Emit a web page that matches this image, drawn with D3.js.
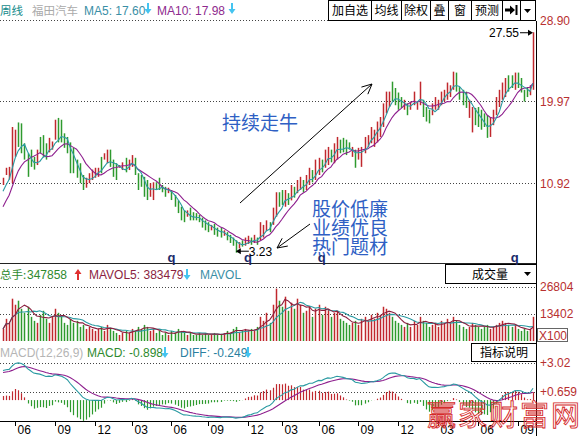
<!DOCTYPE html>
<html><head><meta charset="utf-8">
<script src="https://cdn.jsdelivr.net/npm/d3@7"></script>
<style>body{margin:0;background:#fff;}svg{display:block;}</style>
</head><body><svg id="c" width="585" height="436"></svg>
<script>
// ---- weekly bars (price) ----
const open = [10.8,11.9,11.5,11.5,14.2,17.2,17.0,15.1,14.0,14.3, 13.6,13.1,15.8,16.0,15.0,14.5,14.7,15.9,17.8,17.5,
 16.2,15.8,15.2,14.5,13.3,12.9,11.6,10.6,11.0,11.4, 11.7,11.8,13.5,13.6,13.3,14.4,13.2,12.9,12.6,12.5,
 13.4,12.5,12.9,13.5,11.8,11.5,11.3,11.0,9.6,9.3, 10.9,11.2,10.6,10.3,9.9,10.0,9.4,8.8,8.1,7.6,
 7.3,8.0,7.6,7.5,7.2,6.9,6.6,6.4,5.8,6.2, 5.8,5.8,5.2,5.3,5.0,4.7,4.4,3.8,4.5,4.1,
 4.3,4.8,4.4,4.8,4.8,5.2,5.9,6.4,5.9,7.5, 9.6,9.9,8.6,9.6,9.2,10.3,10.0,10.4,11.0,10.4,
 11.0,12.2,11.5,12.0,13.3,12.8,13.1,14.4,13.4,13.8, 15.5,15.7,15.4,15.3,14.0,14.4,13.7,13.0,14.5,15.1,
 15.6,15.2,15.8,16.3,17.5,19.0,19.6,21.8,21.2,20.6, 20.2,19.2,19.5,19.1,19.7,19.1,19.8,19.9,19.1,18.8,
 18.6,19.2,19.2,19.7,20.1,20.3,20.6,21.4,22.8,21.3, 21.0,20.7,18.4,17.0,19.0,19.1,18.7,18.4,18.2,16.3,
 17.6,18.7,19.6,20.4,20.7,22.5,22.6,21.4,22.9,22.3, 21.0,21.3,20.8,21.4];
const high = [11.5,12.6,12.7,17.1,16.8,17.6,17.5,15.3,14.2,14.6, 13.8,14.6,16.0,16.2,15.3,15.9,15.5,17.9,18.1,17.9,
 16.4,16.0,15.4,14.8,13.5,13.1,11.8,11.5,12.0,12.4, 12.6,12.6,13.8,14.2,14.6,14.6,13.5,13.1,12.9,13.2,
 13.7,13.5,14.0,13.7,12.0,11.8,11.6,11.25,10.9,11.0, 11.0,11.5,10.7,10.5,10.4,10.15,9.6,9.0,8.3,7.9,
 7.9,8.2,7.7,7.6,7.4,7.1,6.8,6.6,6.3,6.4, 6.0,6.0,5.7,5.5,5.2,4.9,4.6,4.4,4.6,4.9,
 5.1,4.9,5.2,4.9,6.6,6.3,6.8,6.6,8.2,9.9, 9.9,10.15,10.15,9.8,10.7,10.5,11.25,11.6,11.25,11.8,
 12.6,12.35,13.5,13.7,13.5,14.6,14.9,14.6,15.3,16.0, 15.7,15.9,15.7,15.4,14.9,14.6,14.8,14.9,16.0,16.2,
 17.1,16.8,17.7,18.2,19.7,21.0,21.0,22.1,21.4,20.9, 20.4,20.1,19.7,19.9,21.0,19.9,22.1,20.1,19.3,19.0,
 19.7,20.4,20.1,21.0,21.2,22.0,21.7,23.2,23.1,21.5, 21.2,21.0,20.1,19.3,19.2,19.3,19.0,18.6,18.4,18.2,
 19.0,20.4,21.2,22.0,22.5,22.8,22.8,23.1,23.1,22.5, 21.2,21.5,21.7,27.55];
const low = [10.7,11.8,11.3,10.9,13.8,14.9,14.2,13.5,11.6,12.7, 12.4,12.9,14.2,13.8,13.5,14.3,14.6,15.7,15.4,15.4,
 14.8,14.2,12.0,12.0,11.5,10.9,10.15,10.4,10.9,11.25, 11.5,11.6,12.0,13.5,13.1,12.7,11.6,11.25,12.6,12.35,
 12.1,12.35,12.7,11.8,10.15,10.5,9.4,9.04,9.4,9.04, 10.15,10.15,9.9,9.4,9.8,9.04,8.3,7.6,6.8,6.6,
 7.2,6.8,6.8,6.8,6.6,6.0,5.7,5.5,5.7,5.2, 5.0,4.9,5.1,4.6,4.3,4.0,3.23,3.7,3.9,4.0,
 4.2,4.1,4.3,4.1,4.6,4.9,5.6,5.5,6.3,7.2, 8.3,8.5,8.3,8.5,9.0,9.3,9.8,10.15,9.9,10.15,
 10.7,11.0,11.25,11.8,12.1,12.6,12.9,13.2,13.1,13.5, 14.2,14.3,14.0,14.6,13.8,12.6,13.5,12.7,14.2,14.9,
 15.3,14.9,15.4,16.0,17.1,18.6,19.3,19.9,19.5,19.0, 19.2,19.0,18.4,19.0,19.5,19.0,19.5,18.2,17.7,17.5,
 18.4,19.0,19.0,19.5,19.9,20.1,20.4,21.2,21.0,20.1, 19.5,19.2,18.1,16.5,17.3,17.1,16.8,17.1,15.9,16.0,
 17.3,18.4,19.3,20.1,20.4,21.0,21.4,21.2,21.4,20.9, 19.9,20.4,20.6,21.2];
const close = [11.3,12.4,12.5,16.0,16.3,15.3,14.6,13.8,12.0,13.0, 12.7,14.3,14.5,14.2,13.9,15.6,15.3,17.5,15.8,16.0,
 15.2,14.5,12.4,12.3,11.8,11.2,10.4,11.3,11.8,12.2, 12.4,12.5,12.3,14.1,14.4,13.0,12.0,11.6,12.9,13.0,
 12.4,13.3,13.8,12.1,10.5,10.8,9.8,9.4,10.6,10.8, 10.3,10.4,10.1,9.7,10.3,9.3,8.6,7.9,7.1,6.9,
 7.8,7.1,7.0,6.9,6.8,6.2,6.0,5.8,6.2,5.5, 5.2,5.1,5.6,4.8,4.5,4.2,3.6,4.3,4.0,4.7,
 4.9,4.3,5.0,4.3,6.3,6.1,6.6,5.8,7.9,9.5, 8.6,8.8,9.9,8.8,10.4,9.6,11.0,11.3,10.2,11.6,
 12.3,11.3,13.1,13.4,12.4,14.3,14.6,13.5,15.0,15.6, 14.5,14.6,14.3,14.7,14.7,13.0,14.6,14.6,15.7,16.0,
 16.8,16.5,17.4,17.9,19.4,20.6,20.8,20.3,19.9,19.3, 19.4,19.9,18.7,19.7,20.7,19.8,21.7,18.5,17.9,17.8,
 19.5,20.2,19.9,20.8,21.0,21.7,21.5,22.9,21.3,20.4, 19.8,19.5,19.8,18.9,17.6,17.4,17.1,17.4,16.3,17.9,
 18.7,20.1,20.9,21.7,22.2,21.3,21.7,22.8,21.7,21.2, 20.2,20.6,21.5,26.0];
// weekly volume (x100)
const volume = [6000,11000,9000,21000,18000,20000,16000,14000,17000,12000, 10000,9000,13000,15000,11000,9000,12000,16000,14000,12000,
 9000,8000,11000,9000,10000,7000,8000,6000,7000,6000, 5000,6000,7000,5000,8000,6000,5000,4000,3000,4000,
 5000,4000,6000,5000,7000,6000,8000,7000,5000,6000, 4000,5000,3000,4000,3000,5000,4000,6000,5000,4000,
 3000,4000,3000,3000,4000,3000,4000,3000,3000,4000, 3000,3000,4000,5000,4000,6000,7000,4000,5000,6000,
 5000,6000,5000,7000,12000,10000,14000,9000,18000,26000, 20000,17000,22000,15000,19000,16000,21000,18000,14000,15000,
 17000,12000,16000,18000,13000,17000,16000,12000,14000,15000, 11000,10000,9000,8000,9000,10000,8000,11000,12000,10000,
 13000,11000,14000,13000,17000,16000,14000,12000,10000,9000, 8000,7000,9000,7000,10000,8000,12000,10000,9000,7000,
 8000,9000,7000,10000,9000,11000,9000,12000,10000,8000, 7000,6000,7000,9000,8000,7000,6000,7000,8000,6000,
 7000,8000,9000,10000,9000,8000,7000,8000,6000,5000, 6000,5000,6000,12000];
const priorClose = [6.0,6.3,6.6,6.9,7.2,9.0,9.5,9.9,10.4]; // weeks before the window (MA warm-up)
const macdSeed = [9.0, 6.6, 2.2]; // EMA12, EMA26, DEA before first week
const priceTicks = [28.90, 19.97, 10.92];
const priceTickLabels = ["28.90","19.97","10.92"];
const volTicks = [26804, 13402];
const macdTicks = [3.02, 0.659];
const macdTickLabels = ["+3.02","+0.659"];
const monthTickIdx = [4,17,30,42,55,67,80,91,103,116,129,142,155,168];
const monthTickLabels = ["06","09","12","03","06","09","12","03","06","09","12","03","06","09"];
const markerIdx = [55,80,104,167];
const buttons = ["加自选","均线","除权","叠","窗","预测"];
const buttonEdges = [328,371,401,430,448,471,502,520,536];

const RED="#c0282e", GREEN="#2e9a2e", TEAL="#2a9aa2", PURPLE="#8e1f8e", AXR="#b83030";
const CJK="'Noto Sans CJK SC','Noto Sans',sans-serif", LAT="'Liberation Sans',Arial,sans-serif";
const svg=d3.select("#c");
const n=close.length;
const x=d3.scaleLinear().domain([0,n-1]).range([3,533]);
const yP=d3.scaleLinear().domain([10.92,28.90]).range([183,20]);
const yV=d3.scaleLinear().domain([0,26804]).range([341,287]);
const yM=d3.scaleLinear().domain([0.659,3.02]).range([392,363]);
const px=i=>Math.round(x(i))+0.5;

// moving averages
const allC=priorClose.concat(close), off=priorClose.length;
const ma=(arr,k,o)=>d3.range(n).map(i=>{const j=i+o;return d3.mean(arr.slice(Math.max(0,j-k+1),j+1));});
const ma5=ma(allC,5,off), ma10=ma(allC,10,off);
const vma5=ma(volume,5,0), vma10=ma(volume,10,0);
let [e12,e26,dea]=macdSeed; const dif=[],deaA=[],hist=[];
close.forEach(c=>{e12=e12*11/13+c*2/13;e26=e26*25/27+c*2/27;const d=e12-e26;dea=dea*0.8+d*0.2;dif.push(d);deaA.push(dea);hist.push(2*(d-dea));});

const defs=svg.append("defs");
defs.append("clipPath").attr("id","cp").append("rect").attr("x",0).attr("y",20).attr("width",536).attr("height",243);
defs.append("clipPath").attr("id","cv").append("rect").attr("x",0).attr("y",284).attr("width",536).attr("height",58);
defs.append("clipPath").attr("id","cm").append("rect").attr("x",0).attr("y",362).attr("width",536).attr("height",60);

// gridlines
const grid=(y)=>svg.append("line").attr("x1",0).attr("x2",536).attr("y1",Math.round(y)+0.5).attr("y2",Math.round(y)+0.5)
  .attr("stroke","#444").attr("stroke-dasharray","1,2");
priceTicks.forEach(v=>grid(yP(v)));volTicks.forEach(v=>grid(yV(v)));macdTicks.forEach(v=>grid(yM(v)));

// price bars
const gp=svg.append("g").attr("clip-path","url(#cp)");
gp.selectAll("line.b").data(close).join("line").attr("class","b")
 .attr("x1",(d,i)=>px(i)).attr("x2",(d,i)=>px(i)).attr("y1",(d,i)=>yP(high[i])).attr("y2",(d,i)=>yP(low[i]))
 .attr("stroke",(d,i)=>close[i]>=open[i]?RED:GREEN).attr("stroke-width",1.5);
const lineP=d3.line().x((d,i)=>x(i)).y(d=>yP(d));
gp.append("path").attr("d",lineP(ma10)).attr("fill","none").attr("stroke",PURPLE).attr("stroke-width",1.1);
gp.append("path").attr("d",lineP(ma5)).attr("fill","none").attr("stroke",TEAL).attr("stroke-width",1.1);

// volume
const gv=svg.append("g").attr("clip-path","url(#cv)");
gv.selectAll("line").data(volume).join("line")
 .attr("x1",(d,i)=>px(i)).attr("x2",(d,i)=>px(i)).attr("y1",yV(0)).attr("y2",d=>yV(d))
 .attr("stroke",(d,i)=>close[i]>=open[i]?RED:GREEN).attr("stroke-width",1.5);
const lineV=d3.line().x((d,i)=>x(i)).y(d=>yV(d));
gv.append("path").attr("d",lineV(vma10)).attr("fill","none").attr("stroke",TEAL).attr("stroke-width",1.1);
gv.append("path").attr("d",lineV(vma5)).attr("fill","none").attr("stroke","#8b1f3f").attr("stroke-width",1.1);

// MACD
const gm=svg.append("g").attr("clip-path","url(#cm)");
gm.selectAll("line").data(hist).join("line")
 .attr("x1",(d,i)=>px(i)).attr("x2",(d,i)=>px(i)).attr("y1",yM(0)).attr("y2",d=>yM(d))
 .attr("stroke",d=>d>=0?RED:GREEN).attr("stroke-width",1.2);
const lineM=d3.line().x((d,i)=>x(i)).y(d=>yM(d));
gm.append("path").attr("d",lineM(deaA)).attr("fill","none").attr("stroke",PURPLE).attr("stroke-width",1.1);
gm.append("path").attr("d",lineM(dif)).attr("fill","none").attr("stroke",TEAL).attr("stroke-width",1.1);

// frame lines
svg.append("line").attr("x1",536.5).attr("x2",536.5).attr("y1",21).attr("y2",436).attr("stroke","#000");
svg.append("line").attr("x1",0).attr("x2",536).attr("y1",263.5).attr("y2",263.5).attr("stroke","#222");
svg.append("line").attr("x1",0).attr("x2",536).attr("y1",421.5).attr("y2",421.5).attr("stroke","#000");

// bottom axis
const xa=svg.append("g");
monthTickIdx.forEach((t,k)=>{
  const tx=Math.round(x(t))+0.5;
  xa.append("line").attr("x1",tx).attr("x2",tx).attr("y1",422).attr("y2",426).attr("stroke","#000");
  xa.append("text").attr("x",tx+2).attr("y",434).attr("font-family",LAT).attr("font-size",12).text(monthTickLabels[k]);
});

// right labels
const rl=(y,t)=>svg.append("text").attr("x",540).attr("y",y).attr("font-family",LAT).attr("font-size",12).attr("fill",AXR).text(t);
priceTicks.forEach((v,k)=>rl(yP(v)+5,priceTickLabels[k]));
volTicks.forEach(v=>rl(yV(v)+4,String(v)));
macdTicks.forEach((v,k)=>rl(yM(v)+4,macdTickLabels[k]));
svg.append("rect").attr("x",537.5).attr("y",328.5).attr("width",30).attr("height",13).attr("fill","#fff").attr("stroke","#666");
svg.append("text").attr("x",539).attr("y",340).attr("font-family",LAT).attr("font-size",12).attr("fill",AXR).text("X100");

// arrows helpers
const darr=(cx,top,c)=>svg.append("path").attr("d",`M${cx-1},${top}h2v6h2.5l-3.5,5l-3.5,-5h2.5z`).attr("fill",c);
const uarr=(cx,top,c)=>svg.append("path").attr("d",`M${cx},${top}l3.5,5h-2.5v6h-2v-6h-2.5z`).attr("fill",c);
const txt=(x0,y0,t,c,f,s)=>svg.append("text").attr("x",x0).attr("y",y0).attr("font-family",f||LAT).attr("font-size",s||12).attr("fill",c).text(t);

// header
txt(0,15,"周线","#138a8a",CJK,11.5);
txt(32,15,"福田汽车","#aaaaaa",CJK,11.5);
txt(84,15,"MA5: 17.60","#3a8fa6");
darr(148,3,"#44c4f0");
txt(157,15,"MA10: 17.98","#8e2a8e");
darr(232,3,"#44c4f0");
// buttons
svg.append("rect").attr("x",328.5).attr("y",0.5).attr("width",207).attr("height",20).attr("fill","#fff").attr("stroke","#000");
buttonEdges.slice(1,-1).forEach(e=>svg.append("line").attr("x1",e+0.5).attr("x2",e+0.5).attr("y1",0).attr("y2",21).attr("stroke","#000"));
buttons.forEach((b,k)=>svg.append("text").attr("x",(buttonEdges[k]+buttonEdges[k+1])/2+0.5).attr("y",15).attr("text-anchor","middle")
  .attr("font-family",CJK).attr("font-size",12).text(b));
svg.append("path").attr("d","M505,8.5h5v-3l5,4.5l-5,4.5v-3h-5z").attr("fill","#000");
svg.append("rect").attr("x",515.5).attr("y",5).attr("width",2).attr("height",10).attr("fill","#000");
svg.append("path").attr("d","M524,9h7l-3.5,4z").attr("fill","#000");

// volume header
txt(0,279,"总手:","#2e8a2e",CJK,11.5);
txt(27,279,"347858","#2e8a2e");
uarr(78,269,"#e03030");
txt(89,279,"MAVOL5: 383479","#8b1f3f");
darr(187,269,"#44c4f0");
txt(200,279,"MAVOL","#3a8fa6");
svg.append("rect").attr("x",445.5).attr("y",264.5).attr("width",91).attr("height",19).attr("fill","#fff").attr("stroke","#000");
txt(472,279,"成交量","#000",CJK,12);
svg.append("path").attr("d","M524,272h7l-3.5,4z").attr("fill","#000");

// MACD header
txt(0,357,"MACD(12,26,9)","#b5b5b5");
txt(87,357,"MACD: -0.898","#2e8a2e");
darr(165,347,"#44c4f0");
txt(180,357,"DIFF: -0.249","#2a7f9f");
darr(248,347,"#44c4f0");
svg.append("rect").attr("x",471.5).attr("y",343.5).attr("width",65).attr("height",18).attr("fill","#fff").attr("stroke","#000");
svg.append("text").attr("x",504).attr("y",357).attr("text-anchor","middle").attr("font-family",CJK).attr("font-size",12).text("指标说明");

// markers
markerIdx.forEach(i=>svg.append("text").attr("x",x(i)).attr("y",262).attr("text-anchor","middle").attr("font-family",LAT)
  .attr("font-weight","bold").attr("font-size",13).attr("fill","#1a2a6a").text("q"));

// annotations
const arrowLine=(x1,y1,x2,y2)=>{
  svg.append("line").attr("x1",x1).attr("y1",y1).attr("x2",x2).attr("y2",y2).attr("stroke","#000").attr("stroke-width",1);
  const a=Math.atan2(y1-y2,x1-x2);
  [0.45,-0.45].forEach(da=>svg.append("line").attr("x1",x2).attr("y1",y2).attr("x2",x2+11*Math.cos(a+da)).attr("y2",y2+11*Math.sin(a+da)).attr("stroke","#000"));
};
arrowLine(240,203,372,84);
arrowLine(310,224,277,248);
const lowI=low.indexOf(d3.min(low)), hiI=high.indexOf(d3.max(high));
// 3.23
svg.append("line").attr("x1",x(lowI)+13).attr("x2",x(lowI)+2).attr("y1",yP(low[lowI])-1.5).attr("y2",yP(low[lowI])-1.5).attr("stroke","#000");
svg.append("path").attr("d",`M${x(lowI)},${yP(low[lowI])-1.5}l5,-3v6z`).attr("fill","#000");
txt(x(lowI)+13,yP(low[lowI])+3,String(d3.min(low)),"#000",LAT,12);
// 27.55
svg.append("line").attr("x1",x(hiI)-13).attr("x2",x(hiI)-2).attr("y1",yP(high[hiI])+0.5).attr("y2",yP(high[hiI])+0.5).attr("stroke","#000");
svg.append("path").attr("d",`M${x(hiI)},${yP(high[hiI])+0.5}l-5,-3v6z`).attr("fill","#000");
svg.append("text").attr("x",x(hiI)-14).attr("y",yP(high[hiI])+5).attr("text-anchor","end").attr("font-family",LAT).attr("font-size",12).text(String(d3.max(high)));

const BLUE="#2f5fc4";
txt(222,130,"持续走牛",BLUE,CJK,19);
["股价低廉","业绩优良","热门题材"].forEach((t,k)=>txt(312,216+k*19,t,BLUE,CJK,19));

// watermark
svg.append("text").attr("x",427).attr("y",426).attr("font-family",CJK).attr("font-size",29).attr("letter-spacing",2)
 .attr("fill","none").attr("stroke","#d42a2a").attr("stroke-width",0.9).text("赢家财富网");
</script></body></html>
